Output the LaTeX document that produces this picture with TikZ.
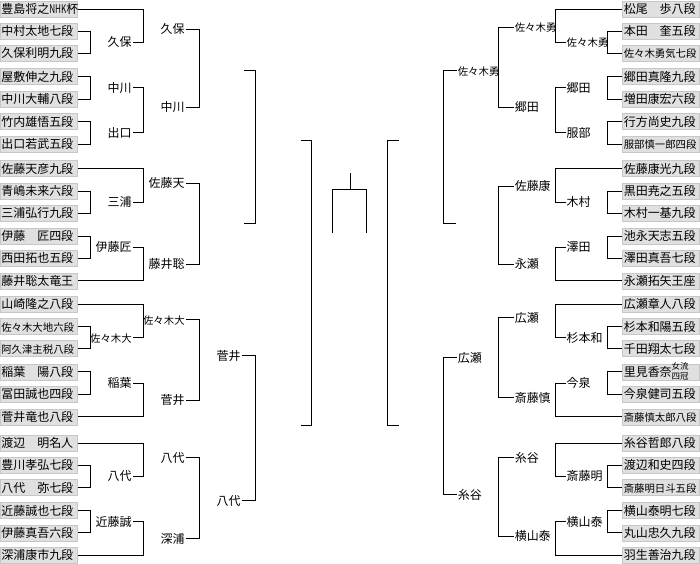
\documentclass[tikz,border=0pt]{standalone}
\usepackage{fontspec}
\setmainfont{Noto Sans CJK JP}
\usepackage{graphicx}
\usetikzlibrary{calc}

\newcommand{\smallname}{\fontsize{10.4}{10.4}\selectfont}
\newcommand{\lbracket}[4]{%
  \path let \p1=(#1.east), \p2=(#2.east) in coordinate (#4) at ({#3pt},{(\y1+\y2)/2});
  \draw[bracket] (#1.east) -| (#4) |- (#2.east);}
\newcommand{\rbracket}[4]{%
  \path let \p1=(#1.west), \p2=(#2.west) in coordinate (#4) at ({#3pt},{(\y1+\y2)/2});
  \draw[bracket] (#1.west) -| (#4) |- (#2.west);}
\newcommand{\lmatch}[6][(0,0)]{\lbracket{#2}{#3}{#4}{#5}%
  \node[winner,anchor=east] (#5w) at ($(#5)+(42,0)+#1$) {#6};}
\newcommand{\rmatch}[6][(0,0)]{\rbracket{#2}{#3}{#4}{#5}%
  \node[winner,anchor=west] (#5w) at ($(#5)+(-42,0)+#1$) {#6};}

\begin{document}
\begin{tikzpicture}[x=1pt,y=-1pt,
  leaf/.style={fill=black!12,draw=black!22,line width=.6pt,minimum height=16pt,
    text width=75pt,inner xsep=1pt,inner ysep=0pt,align=left,
    text height=10pt,text depth=1pt,font=\fontsize{12}{12}\selectfont},
  winner/.style={inner sep=1pt,text height=10pt,text depth=1pt,font=\fontsize{12}{12}\selectfont},
  bracket/.style={line width=1pt}]
\path[fill=white] (0,0) rectangle (700,564);

\foreach \ypos/\name [count=\i from 0] in {9.3/豊島将之\scalebox{0.68}[1]{NHK}杯,31.2/中村太地七段,53.3/久保利明九段,
  76.7/屋敷伸之九段,99.3/中川大輔八段,121.7/竹内雄悟五段,144.5/出口若武五段,
  168.8/佐藤天彦九段,191.2/青嶋未来六段,213.3/三浦弘行九段,236.7/伊藤　匠四段,258.3/西田拓也五段,281.2/藤井聡太竜王,
  304.3/山崎隆之八段,327/{\smallname 佐々木大地六段},349/{\smallname 阿久津主税八段},372.3/稲葉　陽八段,394.7/冨田誠也四段,417.2/菅井竜也八段,
  443.8/渡辺　明名人,465.7/豊川孝弘七段,488/八代　弥七段,511/近藤誠也七段,533.3/伊藤真吾六段,555.8/深浦康市九段}
  \node[leaf,anchor=west] (L\i) at (0,\ypos) {\name};

\foreach \ypos/\name [count=\i from 0] in {9.3/松尾　歩八段,31.2/本田　奎五段,53.3/{\smallname 佐々木勇気七段},
  76.7/郷田真隆九段,99.3/増田康宏六段,121.7/行方尚史九段,144.5/{\smallname 服部慎一郎四段},
  168.8/佐藤康光九段,191.2/黒田尭之五段,213.3/木村一基九段,236.7/池永天志五段,258.3/澤田真吾七段,281.2/永瀬拓矢王座,
  304.3/広瀬章人八段,327/杉本和陽五段,349/千田翔太七段,
  372.3/里見香奈\raisebox{-3.5pt}{\fontsize{8.5}{8.5}\selectfont\shortstack{女流\\四冠}},
  394.7/今泉健司五段,417.2/{\smallname 斎藤慎太郎八段},
  443.8/糸谷哲郎八段,465.7/渡辺和史四段,488/{\smallname 斎藤明日斗五段},511/横山泰明七段,533.3/丸山忠久九段,555.8/羽生善治九段}
  \node[leaf,anchor=west] (R\i) at (623,\ypos) {\name};

% left half
\lmatch{L1}{L2}{91}{a1}{久保}
\lmatch{L3}{L4}{91}{a2}{中川}
\lmatch{L5}{L6}{91}{a3}{出口}
\lmatch{L8}{L9}{91}{a4}{三浦}
\lmatch{L10}{L11}{91}{a5}{伊藤匠}
\lmatch{L14}{L15}{91}{a6}{\smallname 佐々木大}
\lmatch{L16}{L17}{91}{a7}{稲葉}
\lmatch{L20}{L21}{91}{a8}{八代}
\lmatch{L22}{L23}{91}{a9}{近藤誠}
\lmatch[(0,3.5)]{L0}{a1w}{144}{b1}{久保}
\lmatch[(0,-3)]{a2w}{a3w}{144}{b2}{中川}
\lmatch[(0,-2)]{L7}{a4w}{144}{b3}{佐藤天}
\lmatch{a5w}{L12}{144}{b4}{藤井聡}
\lmatch[(0,-1)]{L13}{a6w}{144}{b5}{\smallname 佐々木大}
\lmatch{a7w}{L18}{144}{b6}{菅井}
\lmatch[(0,-2)]{L19}{a8w}{144}{b7}{八代}
\lmatch{a9w}{L24}{144}{b8}{深浦}
\lmatch[(2,2.5)]{b1w}{b2w}{200}{c1}{}
\lmatch[(2,0)]{b3w}{b4w}{200}{c2}{}
\lmatch[(0,-4)]{b5w}{b6w}{200}{c3}{菅井}
\lmatch[(0,2.5)]{b7w}{b8w}{200}{c4}{八代}
\lmatch[(3,-6.5)]{c1w}{c2w}{256}{d1}{}
\lmatch[(3,-2.5)]{c3w}{c4w}{256}{d2}{}
\lbracket{d1w}{d2w}{312}{e1}

% right half
\rmatch{R1}{R2}{608}{p1}{\smallname 佐々木勇}
\rmatch{R3}{R4}{608}{p2}{郷田}
\rmatch{R5}{R6}{608}{p3}{服部}
\rmatch{R8}{R9}{608}{p4}{木村}
\rmatch{R10}{R11}{608}{p5}{澤田}
\rmatch{R14}{R15}{608}{p6}{杉本和}
\rmatch{R16}{R17}{608}{p7}{今泉}
\rmatch{R20}{R21}{608}{p8}{斎藤明}
\rmatch{R22}{R23}{608}{p9}{横山泰}
\rmatch[(0,1.5)]{R0}{p1w}{556}{q1}{\smallname 佐々木勇}
\rmatch[(0,-3)]{p2w}{p3w}{556}{q2}{郷田}
\rmatch[(0,1)]{R7}{p4w}{556}{q3}{佐藤康}
\rmatch{p5w}{R12}{556}{q4}{永瀬}
\rmatch[(0,-3)]{R13}{p6w}{556}{q5}{広瀬}
\rmatch[(0,-2.5)]{p7w}{R18}{556}{q6}{斎藤慎}
\rmatch[(0,-2)]{R19}{p8w}{556}{q7}{糸谷}
\rmatch[(0,-2.5)]{p9w}{R24}{556}{q8}{横山泰}
\rmatch[(0,3.5)]{q1w}{q2w}{499}{r1}{\smallname 佐々木勇}
\rmatch[(-1,-1.5)]{q3w}{q4w}{499}{r2}{}
\rmatch{q5w}{q6w}{499}{r3}{広瀬}
\rmatch[(0,-2)]{q7w}{q8w}{499}{r4}{糸谷}
\rmatch[(-3,-6.5)]{r1w}{r2w}{444}{s1}{}
\rmatch[(-3,-1)]{r3w}{r4w}{444}{s2}{}
\rbracket{s1w}{s2w}{388}{t1}

% final
\coordinate (champ) at (351,173);
\coordinate (final) at (351,190);
\coordinate (finL) at (333,233);
\coordinate (finR) at (367,233);
\draw[bracket] (finL) |- (final) -| (finR);
\draw[bracket] (final) -- (champ);
\end{tikzpicture}
\end{document}
